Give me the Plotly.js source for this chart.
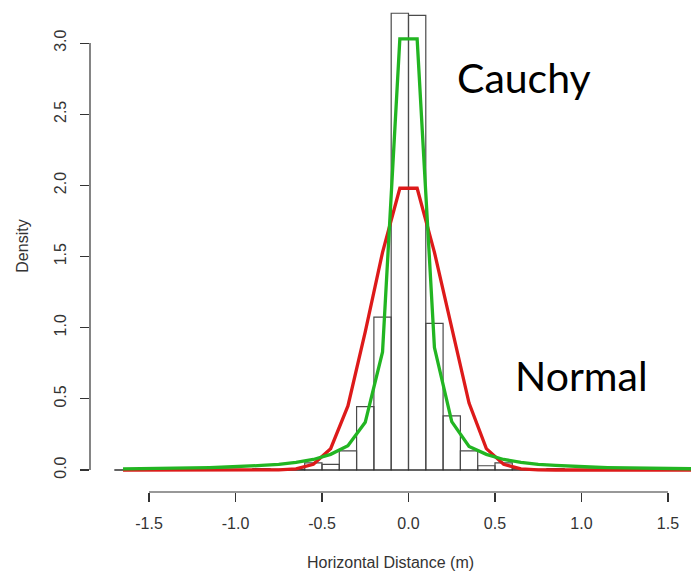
<!DOCTYPE html>
<html>
<head>
<meta charset="utf-8">
<script src="https://cdn.plot.ly/plotly-3.0.1.min.js"></script>
<style>html,body{margin:0;padding:0;background:#fff;}#chart{width:691px;height:571px;}</style>
</head>
<body>
<div id="chart"></div>
<script>
// Histogram bin midpoints (bins 0.1 wide from -1.7 to 1.7)
var binMids = [-1.65,-1.55,-1.45,-1.35,-1.25,-1.15,-1.05,-0.95,-0.85,-0.75,-0.65,-0.55,-0.45,-0.35,-0.25,-0.15,-0.05,
               0.05,0.15,0.25,0.35,0.45,0.55,0.65,0.75,0.85,0.95,1.05,1.15,1.25,1.35,1.45,1.55,1.65];
var binEdges = [-1.7, 1.7];
// Histogram densities
var histDensity = [0,0,0,0,0,0,0,0,0.01,0.005,0.005,0.05,0.04,0.135,0.445,1.075,3.21,
                   3.195,1.03,0.38,0.135,0.03,0.05,0.01,0.005,0.01,0,0,0,0,0,0,0,0];
// Fitted Normal density evaluated at bin midpoints
var normalDensity = [0,0,0,0,0,0,0,0,0,0.001,0.008,0.04,0.15,0.45,0.97,1.53,1.98,
                     1.98,1.53,0.99,0.47,0.15,0.04,0.008,0.001,0,0,0,0,0,0,0,0,0];
// Fitted Cauchy density evaluated at bin midpoints
var cauchyDensity = [0.0084,0.0095,0.011,0.0125,0.0146,0.017,0.021,0.025,0.032,0.040,0.054,0.074,0.11,0.17,0.335,0.83,3.03,
                     3.03,0.86,0.34,0.165,0.11,0.074,0.054,0.040,0.032,0.025,0.021,0.017,0.0146,0.0125,0.011,0.0095,0.0084];
var xTicks = [-1.5,-1.0,-0.5,0.0,0.5,1.0,1.5];
var xTickLabels = ["-1.5","-1.0","-0.5","0.0","0.5","1.0","1.5"];
var yTicks = [0,0.5,1.0,1.5,2.0,2.5,3.0];
var yTickLabels = ["0.0","0.5","1.0","1.5","2.0","2.5","3.0"];

var axisFont = {family: "Liberation Sans, Arial, sans-serif", size: 16, color: "#333"};

var traces = [
  {type: "scatter", mode: "lines", x: binEdges, y: [0, 0],
   line: {color: "#222", width: 1.2}, hoverinfo: "skip", showlegend: false},
  {type: "bar", x: binMids, y: histDensity, width: 0.1,
   marker: {color: "rgba(255,255,255,0)", line: {color: "#4a4a4a", width: 1.2}},
   showlegend: false},
  {type: "scatter", mode: "lines", x: binMids, y: normalDensity,
   line: {color: "#dd1a1a", width: 3.3}, showlegend: false},
  {type: "scatter", mode: "lines", x: binMids, y: cauchyDensity,
   line: {color: "#22b522", width: 3.3}, showlegend: false}
];

var layout = {
  width: 691, height: 571,
  margin: {l: 90, r: 0, t: 0, b: 79, pad: 0},
  paper_bgcolor: "#fff", plot_bgcolor: "#fff",
  showlegend: false,
  bargap: 0,
  xaxis: {
    range: [-1.841, 1.633], showgrid: false, zeroline: false, showline: false,
    tickvals: xTicks, ticktext: xTickLabels, ticks: "outside", ticklen: 9,
    tickcolor: "#333", tickwidth: 1.2, tickfont: axisFont, ticklabelstandoff: 8,
    title: {text: "Horizontal Distance (m)", font: axisFont, standoff: 25}
  },
  yaxis: {
    range: [-0.1546, 3.303], showgrid: false, zeroline: false, showline: false,
    tickvals: yTicks, ticktext: yTickLabels, ticks: "outside", ticklen: 9,
    tickcolor: "#333", tickwidth: 1.2, tickfont: axisFont, tickangle: -90, ticklabelstandoff: 8,
    title: {text: "Density", font: axisFont, standoff: 18}
  },
  shapes: [
    {type: "line", xref: "x", yref: "paper", x0: xTicks[0], x1: xTicks[xTicks.length-1], y0: 0, y1: 0,
     line: {color: "#333", width: 1.2}},
    {type: "line", xref: "paper", yref: "y", x0: 0, x1: 0, y0: yTicks[0], y1: yTicks[yTicks.length-1],
     line: {color: "#333", width: 1.2}}
  ],
  annotations: [
    {text: "Cauchy", xref: "paper", yref: "paper", x: 0.608, y: 0.842, xanchor: "left", yanchor: "middle",
     showarrow: false, font: {family: "Lato, Noto Sans, sans-serif", size: 41, color: "#000"}},
    {text: "Normal", xref: "paper", yref: "paper", x: 0.703, y: 0.236, xanchor: "left", yanchor: "middle",
     showarrow: false, font: {family: "Lato, Noto Sans, sans-serif", size: 41, color: "#000"}}
  ]
};

Plotly.newPlot("chart", traces, layout, {displayModeBar: false, staticPlot: true});
</script>
</body>
</html>
